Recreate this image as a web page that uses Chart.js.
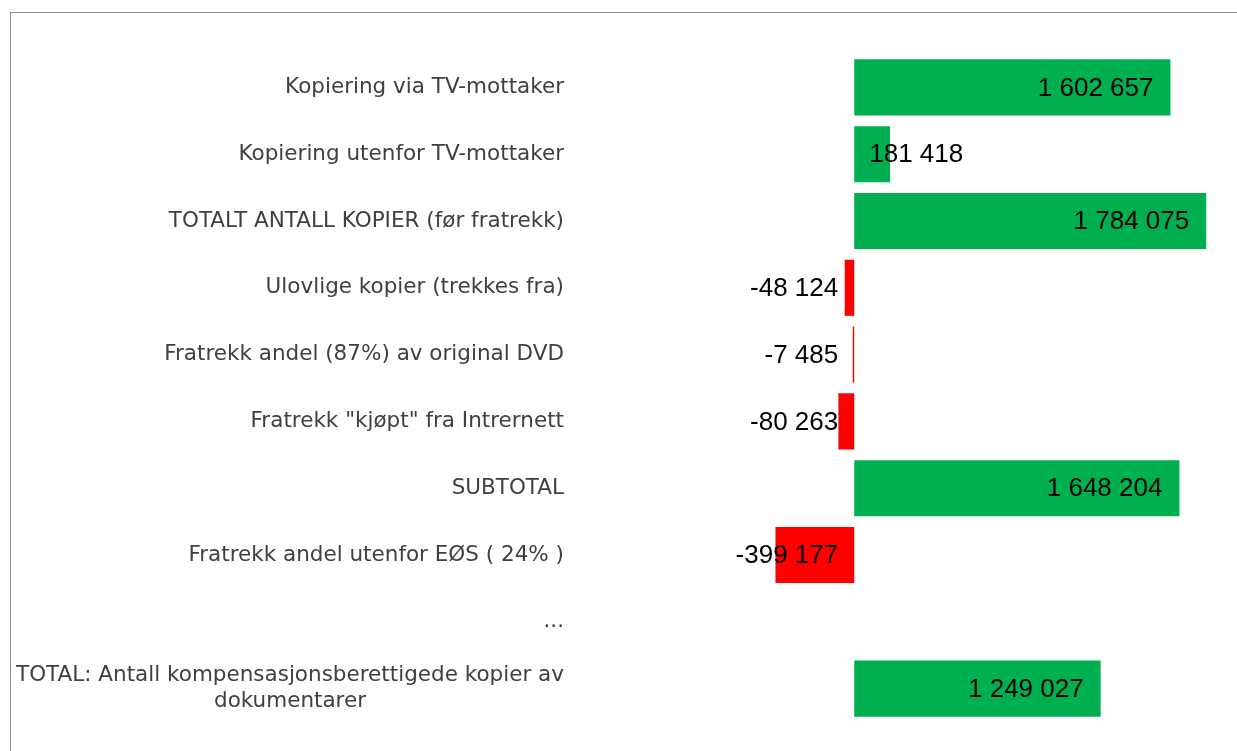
<!DOCTYPE html>
<html lang="no">
<head>
    <meta charset="UTF-8">
    <title>Kompensasjonsberettigede kopier</title>
    <script src="https://cdn.jsdelivr.net/npm/chart.js"></script>
    <style>
        body {
            margin: 0;
            background: #ffffff;
            overflow: hidden;
        }
        .frame {
            position: absolute;
            left: 10px;
            top: 12px;
            width: 1400px;
            height: 900px;
            border-top: 1px solid #8c8c8c;
            border-left: 1px solid #8c8c8c;
        }
        .wrap {
            position: absolute;
            left: 0;
            top: 0;
            width: 1237px;
            height: 751px;
        }
    </style>
</head>
<body>
    <div class="frame"></div>
    <div class="wrap"><canvas id="chart"></canvas></div>

    <script>
        // Categories (last one wraps to two lines)
        const categories = [
            'Kopiering via TV-mottaker',
            'Kopiering utenfor TV-mottaker',
            'TOTALT ANTALL KOPIER (før fratrekk)',
            'Ulovlige kopier (trekkes fra)',
            'Fratrekk andel (87%) av original DVD',
            'Fratrekk "kjøpt" fra Intrernett',
            'SUBTOTAL',
            'Fratrekk andel utenfor EØS ( 24% )',
            '...',
            ['TOTAL: Antall kompensasjonsberettigede kopier av', 'dokumentarer']
        ];

        // Values for each row ("..." row is empty)
        const values = [1602657, 181418, 1784075, -48124, -7485, -80263, 1648204, -399177, null, 1249027];

        const green = '#00b050';
        const red = '#ff0000';

        // Format numbers with space as thousands separator
        function fmt(v) {
            const s = Math.abs(v).toString().replace(/\B(?=(\d{3})+(?!\d))/g, ' ');
            return (v < 0 ? '-' : '') + s;
        }

        // Draw the category labels: right aligned, multi-line labels centred
        const categoryLabels = {
            id: 'categoryLabels',
            afterDraw(chart) {
                const ctx = chart.ctx;
                const y = chart.scales.y;
                const right = 564;
                ctx.save();
                ctx.font = '21.5px "DejaVu Sans", Verdana, sans-serif';
                ctx.fillStyle = '#404040';
                ctx.textBaseline = 'middle';
                categories.forEach((label, i) => {
                    const cy = y.getPixelForValue(i);
                    if (Array.isArray(label)) {
                        const w = Math.max(...label.map(l => ctx.measureText(l).width));
                        const cx = right - w / 2;
                        const lh = 26;
                        ctx.textAlign = 'center';
                        label.forEach((l, j) => {
                            ctx.fillText(l, cx, cy + (j - (label.length - 1) / 2) * lh);
                        });
                    } else {
                        ctx.textAlign = 'right';
                        ctx.fillText(label, right, cy);
                    }
                });
                ctx.restore();
            }
        };

        // Value labels on the bars
        const valueLabels = {
            id: 'valueLabels',
            afterDatasetsDraw(chart) {
                const ctx = chart.ctx;
                const x = chart.scales.x;
                const zero = x.getPixelForValue(0);
                const meta = chart.getDatasetMeta(0);
                ctx.save();
                ctx.font = '26px "Liberation Sans", Arial, sans-serif';
                ctx.fillStyle = '#000000';
                ctx.textBaseline = 'middle';
                ctx.textAlign = 'left';
                meta.data.forEach((bar, i) => {
                    const v = values[i];
                    if (v === null) return;
                    const text = fmt(v);
                    const w = ctx.measureText(text).width;
                    let left;
                    if (v >= 0) {
                        left = Math.max(bar.x - 17 - w, zero + 15);
                    } else {
                        left = zero - 16 - w;
                    }
                    ctx.fillText(text, left, bar.y + 1);
                });
                ctx.restore();
            }
        };

        new Chart(document.getElementById('chart'), {
            type: 'bar',
            data: {
                labels: categories,
                datasets: [{
                    data: values,
                    backgroundColor: values.map(v => v < 0 ? red : green),
                    borderWidth: 0,
                    categoryPercentage: 1,
                    barPercentage: 0.84
                }]
            },
            options: {
                indexAxis: 'y',
                responsive: true,
                maintainAspectRatio: false,
                animation: false,
                layout: {
                    padding: { top: 54, bottom: 29, left: 0, right: 0 }
                },
                plugins: {
                    legend: { display: false },
                    tooltip: { enabled: false }
                },
                scales: {
                    x: {
                        display: false,
                        min: -1400000,
                        max: 1940000
                    },
                    y: {
                        grid: { display: false },
                        border: { display: false },
                        ticks: { display: false },
                        afterFit(scale) { scale.width = 578; }
                    }
                }
            },
            plugins: [categoryLabels, valueLabels]
        });
    </script>
</body>
</html>
